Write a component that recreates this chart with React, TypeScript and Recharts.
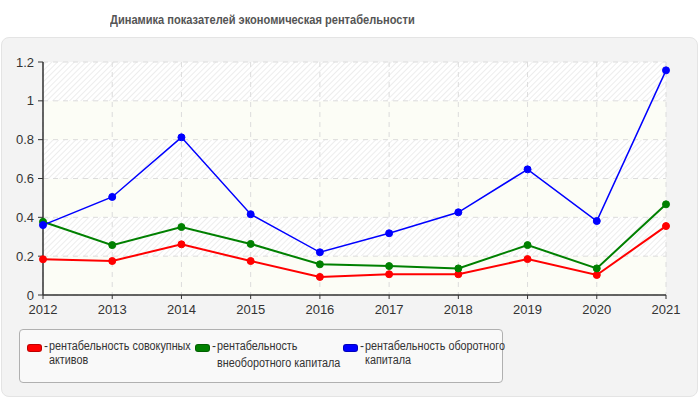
import React from 'react';
import { LineChart, Line, XAxis, YAxis, CartesianGrid } from 'recharts';

const years = ['2012', '2013', '2014', '2015', '2016', '2017', '2018', '2019', '2020', '2021'];
const totalAssets = [0.184, 0.175, 0.261, 0.175, 0.093, 0.107, 0.107, 0.185, 0.103, 0.355];
const nonCurrentCapital = [0.377, 0.257, 0.35, 0.263, 0.158, 0.149, 0.137, 0.257, 0.137, 0.467];
const workingCapital = [0.36, 0.505, 0.812, 0.416, 0.22, 0.318, 0.426, 0.647, 0.381, 1.157];
const yTicks = [0, 0.2, 0.4, 0.6, 0.8, 1, 1.2];
const seriesNames = [
  'рентабельность совокупных активов',
  'рентабельность внеоборотного капитала',
  'рентабельность оборотного капитала',
];
const legendLines = [
  ['рентабельность совокупных', 'активов'],
  ['рентабельность', 'внеоборотного капитала'],
  ['рентабельность оборотного', 'капитала'],
];
const colors = ['#ff0000', '#008000', '#0000ff'];

const data = years.map((y, i) => ({
  year: y,
  a: totalAssets[i],
  b: nonCurrentCapital[i],
  c: workingCapital[i],
}));

const FONT = '"Liberation Sans", Arial, sans-serif';

const LegendBox = () => (
  <div
    style={{
      position: 'absolute',
      left: 19,
      top: 329,
      width: 484,
      height: 54,
      border: '1px solid #b0b0b0',
      borderRadius: 4,
      background: '#f9f9f9',
      boxSizing: 'border-box',
      fontFamily: FONT,
      fontSize: 12,
      color: '#333',
    }}
  >
    {legendLines.map((lines, i) => {
      const left = [7, 175, 323][i];
      return (
        <div key={i} style={{ position: 'absolute', left, top: 12 }}>
          <div
            style={{
              position: 'absolute',
              left: 0,
              top: 2,
              width: 13,
              height: 6,
              borderRadius: 3,
              background: colors[i],
              border: '1px solid rgba(0,0,0,0.25)',
            }}
          />
          <div style={{ position: 'absolute', left: 17, top: -2, whiteSpace: 'nowrap', lineHeight: '13px' }}>-</div>
          <div
            style={{
              position: 'absolute',
              left: 22,
              top: -2,
              whiteSpace: 'nowrap',
              lineHeight: '13px',
              transform: 'scaleX(0.9)',
              transformOrigin: 'left center',
            }}
          >
            {lines[0]}
          </div>
          <div
            style={{
              position: 'absolute',
              left: 22,
              top: i === 1 ? 15 : 12,
              whiteSpace: 'nowrap',
              lineHeight: '13px',
              transform: 'scaleX(0.9)',
              transformOrigin: 'left center',
            }}
          >
            {lines[1]}
          </div>
        </div>
      );
    })}
  </div>
);

export default function App() {
  return (
    <div style={{ position: 'absolute', left: 0, top: 0, width: 700, height: 400, background: '#fff', fontFamily: FONT }}>
      <div
        style={{
          position: 'absolute',
          left: 110,
          top: 12,
          whiteSpace: 'nowrap',
          fontFamily: FONT,
          fontSize: 13.5,
          fontWeight: 'bold',
          color: '#555',
          transform: 'scaleX(0.82)',
          transformOrigin: 'left center',
        }}
      >
        Динамика показателей экономическая рентабельности
      </div>
      <div
        style={{
          position: 'absolute',
          left: 1,
          top: 37,
          width: 697,
          height: 360,
          background: '#f3f3f3',
          border: '1px solid #e4e4e4',
          borderRadius: 8,
          boxSizing: 'border-box',
        }}
      />
      <div style={{ position: 'absolute', left: 0, top: 0 }}>
        <LineChart width={700} height={400} data={data} margin={{ top: 62, right: 34, bottom: 75, left: 0 }}>
          <defs>
            <pattern id="hatch" width="4" height="4" patternUnits="userSpaceOnUse" patternTransform="rotate(45)">
              <rect width="4" height="4" fill="#ffffff" />
              <line x1="0" y1="0" x2="0" y2="4" stroke="#e8e8e8" strokeWidth="1.5" />
            </pattern>
          </defs>
          <CartesianGrid
            stroke="#dcdcdc"
            strokeDasharray="5 5"
            fill="url(#hatch)"
            horizontalFill={['url(#hatch)', '#fcfdf6']}
          />
          <XAxis
            dataKey="year"
            height={30}
            padding={{ left: 0, right: 0 }}
            tick={{ fill: '#333', fontSize: 13, fontFamily: FONT }}
            tickSize={4}
            tickMargin={6}
            axisLine={{ stroke: '#333', strokeWidth: 1.5 }}
            tickLine={{ stroke: '#333' }}
            interval={0}
          />
          <YAxis
            width={43}
            domain={[0, 1.2]}
            ticks={yTicks}
            tick={{ fill: '#333', fontSize: 13, fontFamily: FONT }}
            tickSize={5}
            tickMargin={4}
            axisLine={{ stroke: '#333', strokeWidth: 1.5 }}
            tickLine={{ stroke: '#333' }}
          />
          <Line
            name={seriesNames[0]}
            dataKey="a"
            stroke={colors[0]}
            strokeWidth={2}
            dot={{ r: 3.5, fill: colors[0], stroke: colors[0], strokeWidth: 1 }}
            isAnimationActive={false}
          />
          <Line
            name={seriesNames[1]}
            dataKey="b"
            stroke={colors[1]}
            strokeWidth={2}
            dot={{ r: 3.5, fill: colors[1], stroke: colors[1], strokeWidth: 1 }}
            isAnimationActive={false}
          />
          <Line
            name={seriesNames[2]}
            dataKey="c"
            stroke={colors[2]}
            strokeWidth={1.5}
            dot={{ r: 3.5, fill: colors[2], stroke: colors[2], strokeWidth: 1 }}
            isAnimationActive={false}
          />
        </LineChart>
      </div>
      <LegendBox />
    </div>
  );
}
